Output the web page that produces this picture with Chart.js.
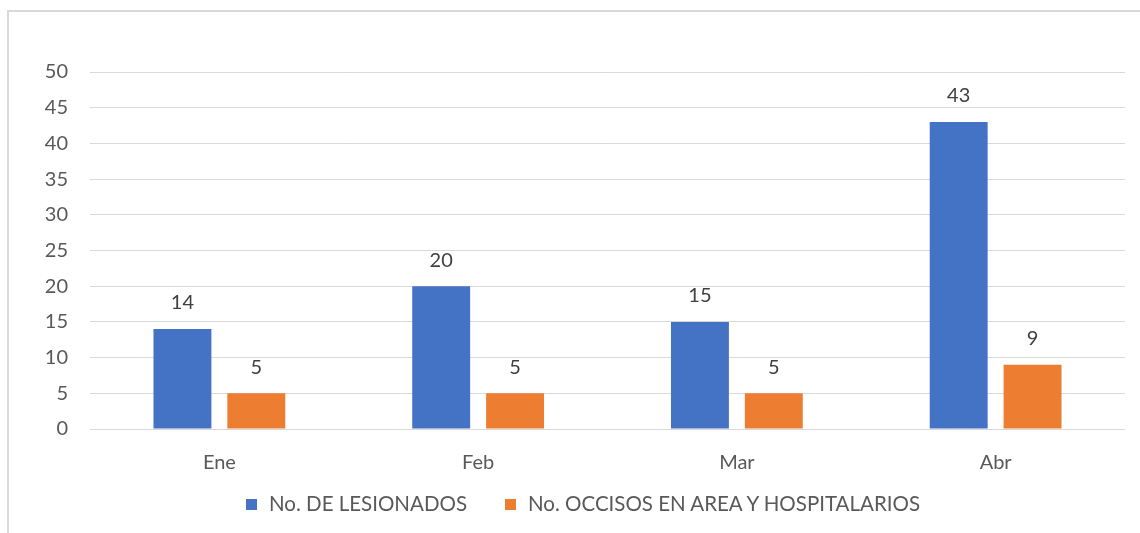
<!DOCTYPE html>
<html lang="es">
<head>
  <meta charset="UTF-8">
  <title>Lesionados y occisos</title>
  <script src="https://cdn.jsdelivr.net/npm/chart.js"></script>
  <style>
    body {
      margin: 0;
      background-color: #ffffff;
    }
    #wrap {
      position: relative;
      width: 1140px;
      height: 533px;
    }
    #leyenda {
      position: absolute;
      left: 26px;
      top: 491px;
      width: 1114px;
      display: flex;
      justify-content: center;
      gap: 38px;
      font-family: Lato, 'Open Sans', sans-serif;
      font-size: 20.5px;
      line-height: 24px;
      color: #595959;
    }
    #leyenda span.caja {
      display: inline-block;
      width: 11px;
      height: 11px;
      margin-right: 12px;
      vertical-align: 1px;
    }
  </style>
</head>
<body>
  <div id="wrap">
    <canvas id="barChart" width="1140" height="533"></canvas>
    <div id="leyenda"></div>
  </div>

  <script>
    const meses = ['Ene', 'Feb', 'Mar', 'Abr'];
    const lesionados = [14, 20, 15, 43];
    const occisos = [5, 5, 5, 9];
    const yTicks = [0, 5, 10, 15, 20, 25, 30, 35, 40, 45, 50];

    const fuente = "Lato, 'Open Sans', sans-serif";

    // marco gris del grafico
    const marco = {
      id: 'marco',
      beforeDraw(chart) {
        const c = chart.ctx;
        c.save();
        c.strokeStyle = '#d9d9d9';
        c.lineWidth = 2;
        c.beginPath();
        c.moveTo(8, 533);
        c.lineTo(8, 11);
        c.lineTo(1140, 11);
        c.stroke();
        c.restore();
      }
    };

    // etiquetas con el valor sobre cada barra
    const valores = {
      id: 'valores',
      afterDatasetsDraw(chart) {
        const c = chart.ctx;
        c.save();
        c.font = '20px ' + fuente;
        c.fillStyle = '#404040';
        c.textAlign = 'center';
        c.textBaseline = 'middle';
        chart.data.datasets.forEach((ds, i) => {
          chart.getDatasetMeta(i).data.forEach((bar, j) => {
            c.fillText(ds.data[j], bar.x, bar.y - 26);
          });
        });
        c.restore();
      }
    };

    const ctx = document.getElementById('barChart').getContext('2d');
    const chart = new Chart(ctx, {
      type: 'bar',
      data: {
        labels: meses,
        datasets: [
          {
            label: 'No. DE LESIONADOS',
            data: lesionados,
            backgroundColor: '#4472c4',
            categoryPercentage: 0.571,
            barPercentage: 0.784
          },
          {
            label: 'No. OCCISOS EN AREA Y HOSPITALARIOS',
            data: occisos,
            backgroundColor: '#ed7d31',
            categoryPercentage: 0.571,
            barPercentage: 0.784
          }
        ]
      },
      options: {
        responsive: false,
        animation: false,
        layout: {
          padding: { top: 72, right: 15, left: 40, bottom: 54 }
        },
        scales: {
          x: {
            afterFit(scale) {
              scale.height = 50;
            },
            grid: { display: false, drawTicks: false },
            border: { display: false },
            ticks: {
              color: '#595959',
              font: { size: 20, family: fuente },
              padding: 22
            }
          },
          y: {
            min: 0,
            max: 50,
            afterBuildTicks(scale) {
              scale.ticks = yTicks.map(v => ({ value: v }));
            },
            afterFit(scale) {
              scale.width = 50;
            },
            grid: { color: '#d9d9d9', lineWidth: 1, drawTicks: false },
            border: { display: false },
            ticks: {
              color: '#595959',
              font: { size: 20, family: fuente },
              padding: 22
            }
          }
        },
        plugins: {
          legend: { display: false },
          tooltip: { enabled: false }
        }
      },
      plugins: [marco, valores]
    });

    // leyenda en html, con los colores de cada serie
    const leyenda = document.getElementById('leyenda');
    chart.data.datasets.forEach(ds => {
      const item = document.createElement('div');
      const caja = document.createElement('span');
      caja.className = 'caja';
      caja.style.backgroundColor = ds.backgroundColor;
      item.appendChild(caja);
      item.appendChild(document.createTextNode(ds.label));
      leyenda.appendChild(item);
    });
  </script>
</body>
</html>
